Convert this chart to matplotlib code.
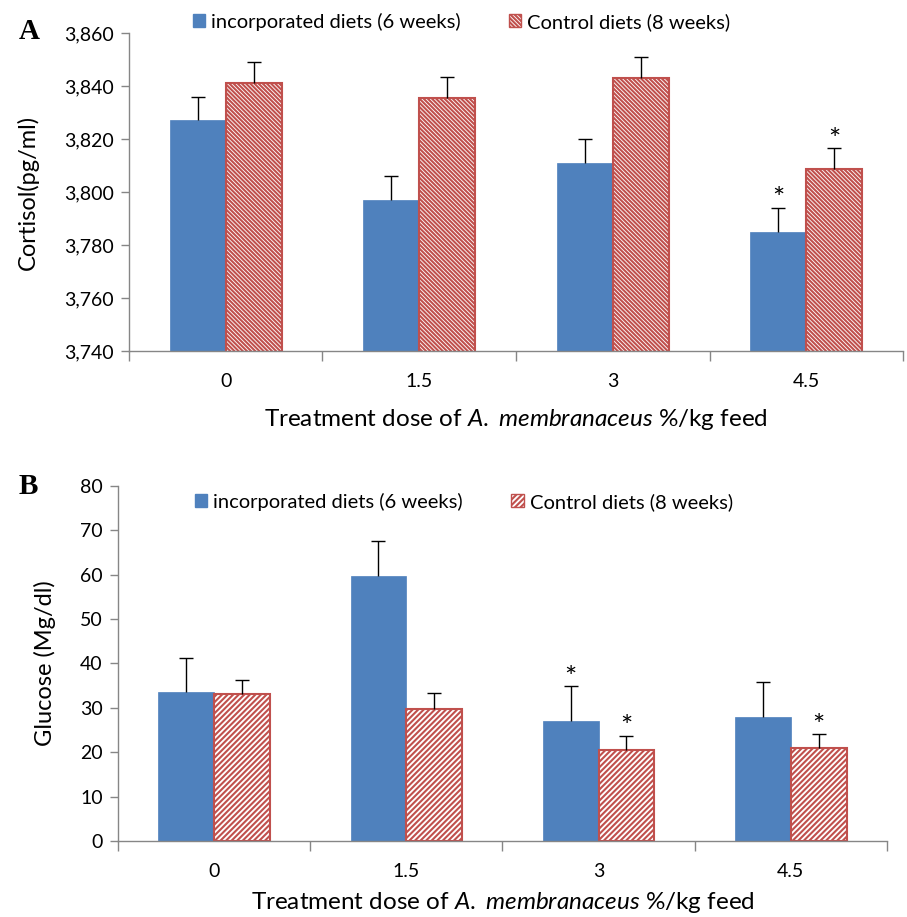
import matplotlib
matplotlib.use("Agg")
import matplotlib.pyplot as plt
from matplotlib.patches import Patch
from matplotlib.ticker import FuncFormatter, FixedLocator
import numpy as np

plt.rcParams['font.family'] = ['Lato', 'DejaVu Sans']
plt.rcParams['mathtext.fontset'] = 'custom'
plt.rcParams['mathtext.rm'] = 'Lato'
plt.rcParams['mathtext.it'] = 'Lato:italic'
plt.rcParams['hatch.linewidth'] = 1.5
plt.rcParams['hatch.color'] = '#C0504D'

categories = ['0', '1.5', '3', '4.5']
series_names = ['incorporated diets (6 weeks)', 'Control diets (8 weeks)']

cortisol_inc = [3827, 3797, 3811, 3785]
cortisol_inc_err = [9, 9, 9, 9]
cortisol_ctl = [3841, 3835.5, 3843, 3808.5]
cortisol_ctl_err = [8, 8, 8, 8]
cortisol_star_inc = [False, False, False, True]
cortisol_star_ctl = [False, False, False, True]

glucose_inc = [33.5, 59.6, 27.1, 28.0]
glucose_inc_err = [7.7, 7.9, 7.8, 7.9]
glucose_ctl = [33.2, 29.8, 20.6, 20.9]
glucose_ctl_err = [3.1, 3.5, 3.1, 3.1]
glucose_star_inc = [False, False, True, False]
glucose_star_ctl = [False, False, True, True]

BLUE = '#4F81BD'
RED = '#C0504D'
AX_GRAY = '#868686'
W = 0.29

fig = plt.figure(figsize=(9.07, 9.17), dpi=100)
axA = fig.add_axes([0.1422, 0.6172, 0.8534, 0.3468])
axB = fig.add_axes([0.1301, 0.0829, 0.8478, 0.3874])


def errs(ax, xs, ys, es):
    _, caps, _ = ax.errorbar(xs, ys, yerr=[np.zeros(len(ys)), es], fmt='none',
                             ecolor='black', elinewidth=1, capsize=5,
                             capthick=1, zorder=3)
    caps[0].set_visible(False)


def draw(ax, inc, inc_err, ctl, ctl_err, s_inc, s_ctl, ylim, yticks, fmt,
         hatch, ylabel, leg_anchor, star_off, ylabelpad, xlabelpad):
    x = np.arange(len(categories))
    ax.bar(x - W / 2, inc, W, color=BLUE, edgecolor=BLUE, linewidth=0.5,
           zorder=2)
    ax.bar(x + W / 2, ctl, W, facecolor='white', edgecolor=RED,
           linewidth=1.5, hatch=hatch, zorder=2)
    errs(ax, x - W / 2, inc, inc_err)
    errs(ax, x + W / 2, ctl, ctl_err)
    for i in range(len(categories)):
        if s_inc[i]:
            ax.annotate('*', (x[i] - W / 2, inc[i] + inc_err[i]),
                        xytext=(0, star_off), textcoords='offset points',
                        ha='center', va='bottom', fontsize=21)
        if s_ctl[i]:
            ax.annotate('*', (x[i] + W / 2, ctl[i] + ctl_err[i]),
                        xytext=(0, star_off), textcoords='offset points',
                        ha='center', va='bottom', fontsize=21)
    ax.set_xlim(-0.5, len(categories) - 0.5)
    ax.set_ylim(*ylim)
    ax.set_yticks(yticks)
    ax.yaxis.set_major_formatter(FuncFormatter(fmt))
    ax.xaxis.set_major_locator(FixedLocator(np.arange(len(categories) + 1) - 0.5))
    ax.xaxis.set_minor_locator(FixedLocator(x))
    ax.set_xticklabels([], minor=False)
    ax.set_xticklabels(categories, minor=True)
    ax.tick_params(axis='x', which='major', length=7, color=AX_GRAY, width=1)
    ax.tick_params(axis='x', which='minor', length=0, labelsize=14, pad=16)
    ax.tick_params(axis='y', length=6, color=AX_GRAY, width=1, labelsize=14, pad=5)
    for s in ['top', 'right']:
        ax.spines[s].set_visible(False)
    for s in ['left', 'bottom']:
        ax.spines[s].set_color(AX_GRAY)
        ax.spines[s].set_linewidth(1)
    ax.set_ylabel(ylabel, fontsize=17, labelpad=ylabelpad)
    ax.set_xlabel(r'Treatment dose of $\mathit{A.\ membranaceus}$ %/kg feed',
                  fontsize=17.5, labelpad=xlabelpad)
    handles = [Patch(facecolor=BLUE, edgecolor=BLUE),
               Patch(facecolor='white', edgecolor=RED, hatch=hatch, linewidth=1)]
    ax.legend(handles, series_names, loc='center', bbox_to_anchor=leg_anchor,
              ncol=2, frameon=False, fontsize=14.5, handlelength=0.6,
              handleheight=0.6, handletextpad=0.3, columnspacing=2.4)


draw(axA, cortisol_inc, cortisol_inc_err, cortisol_ctl, cortisol_ctl_err,
     cortisol_star_inc, cortisol_star_ctl, (3740, 3860),
     np.arange(3740, 3861, 20), lambda v, p: f'{int(v):,}', '\\' * 8,
     'Cortisol(pg/ml)', (0.43, 1.035), -4, 18, 12)
draw(axB, glucose_inc, glucose_inc_err, glucose_ctl, glucose_ctl_err,
     glucose_star_inc, glucose_star_ctl, (0, 80),
     np.arange(0, 81, 10), lambda v, p: f'{int(v)}', '/' * 6,
     'Glucose (Mg/dl)', (0.45, 0.955), -4, 17, 7)

fig.text(0.021, 0.966, 'A', fontsize=21, fontweight='bold',
         family='Liberation Serif', va='center', ha='left')
fig.text(0.021, 0.469, 'B', fontsize=21, fontweight='bold',
         family='Liberation Serif', va='center', ha='left')

fig.savefig('out.png', dpi=100)
